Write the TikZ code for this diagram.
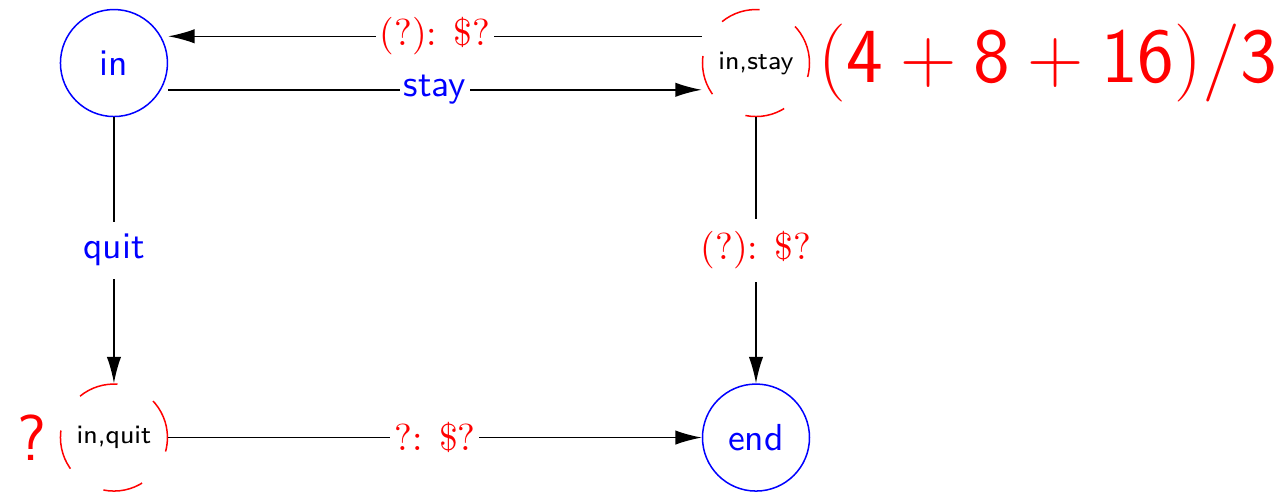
\documentclass[tikz,border=0pt]{standalone}
\usetikzlibrary{arrows.meta}
\begin{document}
\begin{tikzpicture}[
  >={Latex[length=7pt,width=3.8pt]},
  line width=0.4pt,
  bluestate/.style={circle, draw=blue, minimum size=1cm, inner sep=0pt, text=blue, font=\sffamily},
  redstate/.style={circle, draw=red, dash pattern=on 10.7pt off 10.7pt, minimum size=1cm, inner sep=0pt, font=\sffamily\scriptsize},
  bluelab/.style={fill=white, text=blue, font=\sffamily, inner xsep=1pt},
  redlab/.style={fill=white, text=red, font=\rmfamily, inner xsep=1pt}
]
\useasboundingbox (-1.065,-4.009) rectangle (10.897,0.589);
\node[bluestate] (in) at (0,0) {in};
\node[redstate] (instay) at (6,0) {in,stay};
\node[redstate] (inquit) at (0,-3.5) {in,quit};
\node[bluestate] (end) at (6,-3.5) {end};
\node[anchor=west, text=red, font=\huge, inner sep=2pt] (score) at (instay.east) {$\mathsf{(4+8+16)/3}$};
\node[anchor=east, text=red, font=\LARGE\sffamily] (q) at (inquit.west) {?};
\draw[->] ([yshift=-0.25cm]in.east) -- node[bluelab]{stay} ([yshift=-0.25cm]instay.west);
\draw[->] ([yshift=0.25cm]instay.west) -- node[redlab]{(?): \$?} ([yshift=0.25cm]in.east);
\draw[->] (in) -- node[bluelab]{quit} (inquit);
\draw[->] (instay) -- node[redlab]{(?): \$?} (end);
\draw[->] (inquit) -- node[redlab]{?: \$?} (end);
\end{tikzpicture}
\end{document}
